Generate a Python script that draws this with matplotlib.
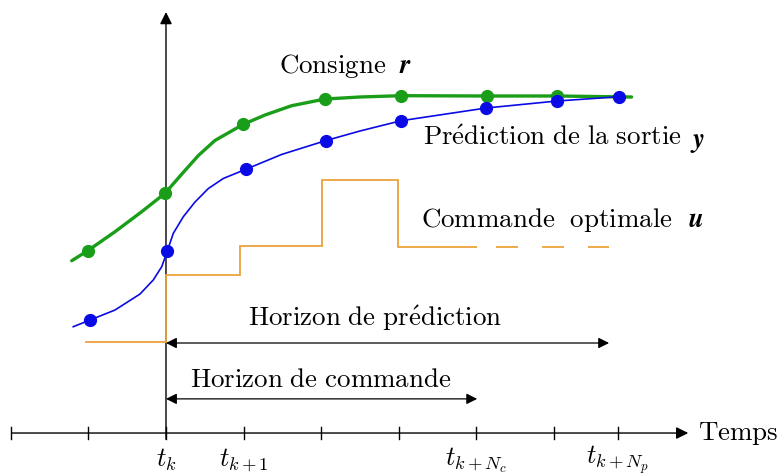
import matplotlib.pyplot as plt

plt.rcParams['mathtext.fontset'] = 'cm'
plt.rcParams['lines.scale_dashes'] = False

# --- data (time in sampling periods, t_k = 0) ---
tick_t = [-2, -1, 0, 1, 2, 3, 4, 5, 5.82]
tick_labels = {0: r'$t_k$', 1: r'$t_{k+1}$', 4: r'$t_{k+N_c}$', 5.82: r'$t_{k+N_p}$'}

# consigne r
r_line_t = [-1.215, -1.009, -0.657, -0.313, -0.013, 0.202, 0.416, 0.631, 0.996,
            1.276, 1.620, 2.049, 2.5, 3.024, 4.137, 5.035, 6.0]
r_line_v = [2.220, 2.349, 2.594, 2.852, 3.089, 3.335, 3.575, 3.77, 3.978,
            4.098, 4.218, 4.304, 4.33, 4.347, 4.343, 4.343, 4.33]
r_dot_t = [-1.009, -0.013, 0.996, 2.049, 3.024, 4.137, 5.035]
r_dot_v = [2.349, 3.089, 3.978, 4.304, 4.347, 4.343, 4.343]

# prediction y
y_line_t = [-1.195, -0.979, -0.657, -0.335, -0.164, -0.055, 0.017, 0.094, 0.223,
            0.374, 0.545, 0.738, 1.027, 1.491, 2.062, 2.5, 3.028, 4.124, 5.035, 5.838]
y_line_v = [1.370, 1.456, 1.585, 1.791, 1.972, 2.143, 2.345, 2.573, 2.787,
            2.977, 3.15, 3.28, 3.398, 3.59, 3.769, 3.892, 4.024, 4.188, 4.278, 4.334]
y_dot_t = [-0.979, 0.017, 1.027, 2.062, 3.028, 4.124, 5.035, 5.838]
y_dot_v = [1.456, 2.345, 3.398, 3.769, 4.024, 4.188, 4.278, 4.334]

# commande u
u_edges = [-1.04, 0, 0.95, 2.01, 2.99, 4.01]
u_levels = [1.17, 2.04, 2.41, 3.26, 2.40]
u_tail_t = [4.25, 5.71]

green = '#1a9e1a'
blue = '#0a0ae6'
orange = '#e9a23b'
fs = 19.4

fig = plt.figure(figsize=(7.83, 4.74), dpi=100)
ax = fig.add_axes([0, 0, 1, 1])
ax.set_xlim(-2.139, 7.951)
ax.set_ylim(-0.528, 5.580)
ax.axis('off')

# axes
ax.annotate('', xy=(6.73, 0), xytext=(-1.985, 0),
            arrowprops=dict(arrowstyle='-|>', color='black', lw=1, mutation_scale=18,
                            shrinkA=0, shrinkB=0))
ax.annotate('', xy=(0, 5.425), xytext=(0, -0.08),
            arrowprops=dict(arrowstyle='-|>', color='black', lw=1, mutation_scale=18,
                            shrinkA=0, shrinkB=0))
for t in tick_t:
    ax.plot([t, t], [-0.08, 0.08], color='black', lw=1)
    if t in tick_labels:
        ax.text(t, -0.35, tick_labels[t], ha='center', va='center', fontsize=19)
ax.text(6.85, 0.0, r'$\mathrm{Temps}$', ha='left', va='center', fontsize=fs)

# commande
ax.stairs(u_levels, u_edges, baseline=None, color=orange, lw=1.3, zorder=3.5)
ax.plot(u_tail_t, [u_levels[-1]] * 2, color=orange, lw=1.3,
        dashes=(15.8, 17.3))

# curves
ax.plot(r_line_t, r_line_v, color=green, lw=2.4, solid_capstyle='round', zorder=4)
ax.plot(r_dot_t, r_dot_v, 'o', color=green, ms=8.5, zorder=4)
ax.plot(y_line_t, y_line_v, color=blue, lw=1.2, zorder=4)
ax.plot(y_dot_t, y_dot_v, 'o', color=blue, ms=8.5, zorder=5)

# horizons
ax.annotate('', xy=(5.71, 1.16), xytext=(0, 1.16),
            arrowprops=dict(arrowstyle='<|-|>', color='black', lw=0.9, mutation_scale=16,
                            shrinkA=0, shrinkB=0))
ax.annotate('', xy=(4.01, 0.44), xytext=(0, 0.44),
            arrowprops=dict(arrowstyle='<|-|>', color='black', lw=0.9, mutation_scale=16,
                            shrinkA=0, shrinkB=0))

ax.text(2.70, 1.48, r'$\mathrm{Horizon\ de\ pr\acute{e}diction}$', ha='center', va='center', fontsize=fs)
ax.text(1.99, 0.68, r'$\mathrm{Horizon\ de\ commande}$', ha='center', va='center', fontsize=fs)
ax.text(1.45, 4.73, r'$\mathrm{Consigne}$', ha='left', va='center', fontsize=fs)
ax.text(3.31, 3.80, r'$\mathrm{Pr\acute{e}diction\ de\ la\ sortie}$', ha='left', va='center', fontsize=fs)
ax.text(3.29, 2.74, r'$\mathrm{Commande\ \ optimale}$', ha='left', va='center', fontsize=fs)

# bold italic symbols
ax.text(3.00, 4.635, r'$\mathbfit{r}$', ha='left', va='baseline', fontsize=fs, math_fontfamily='stix')
ax.text(6.75, 3.69, r'$\mathbfit{y}$', ha='left', va='baseline', fontsize=fs, math_fontfamily='stix')
ax.text(6.73, 2.66, r'$\mathbfit{u}$', ha='left', va='baseline', fontsize=fs, math_fontfamily='stix')

fig.savefig('out.png', dpi=100)
